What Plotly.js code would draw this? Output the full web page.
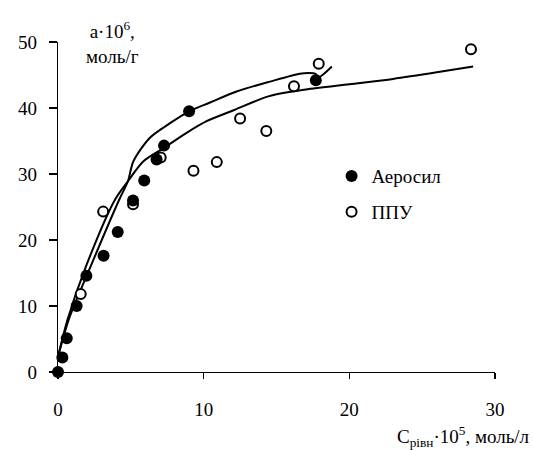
<!DOCTYPE html>
<html>
<head>
<meta charset="utf-8">
<script src="https://cdn.plot.ly/plotly-3.0.1.min.js"></script>
<style>html,body{margin:0;padding:0;background:#fff;}</style>
</head>
<body>
<div id="chart"></div>
<script>
// Measured points
const aeroX = [0, 0.3, 0.6, 1.28, 1.95, 3.13, 4.1, 5.15, 5.92, 6.77, 7.28, 9.0, 17.7];
const aeroY = [0, 2.2, 5.1, 10.0, 14.6, 17.6, 21.2, 26.0, 29.0, 32.2, 34.3, 39.5, 44.2];
const ppuX = [1.56, 3.1, 5.15, 7.05, 9.3, 10.9, 12.5, 14.3, 16.2, 17.9, 28.35];
const ppuY = [11.8, 24.3, 25.4, 32.5, 30.5, 31.8, 38.4, 36.5, 43.3, 46.7, 48.9];
// Fitted curves
const fitAeroX = [0, 0.73, 2.24, 4.2, 4.8, 5.17, 6.31, 7.69, 9.0, 10.4, 12.26, 14.55, 16.6, 17.3, 17.65, 17.9, 18.8];
const fitAeroY = [2.3, 7.9, 16.0, 26.1, 28.9, 31.9, 35.5, 37.7, 39.5, 40.8, 42.5, 44.0, 45.2, 45.3, 45.2, 44.7, 46.3];
const fitPpuX = [0, 0.65, 1.92, 3.91, 4.8, 5.85, 7.3, 8.8, 10.2, 12.1, 14.5, 17.0, 20, 23, 26, 28.5];
const fitPpuY = [2.3, 7.9, 16.0, 26.1, 28.9, 31.9, 34.0, 36.2, 38.0, 39.7, 41.8, 42.8, 43.6, 44.4, 45.4, 46.3];
const seriesNames = ['Аеросил', 'ППУ'];
const xTicks = [0, 10, 20, 30];
const yTicks = [0, 10, 20, 30, 40, 50];

const FONT = 'Liberation Serif';
const F = {family: FONT, size: 19, color: '#000'};

const traces = [
  {x: fitAeroX, y: fitAeroY, mode: 'lines', line: {color: '#000', width: 2, shape: 'spline', smoothing: 0.8}, showlegend: false, hoverinfo: 'skip', cliponaxis: false},
  {x: fitPpuX, y: fitPpuY, mode: 'lines', line: {color: '#000', width: 2, shape: 'spline', smoothing: 0.8}, showlegend: false, hoverinfo: 'skip', cliponaxis: false},
  {x: ppuX, y: ppuY, name: seriesNames[1], mode: 'markers', legendrank: 2, legendgroup: 'b',
   marker: {symbol: 'circle', size: 10, color: '#fff', line: {color: '#000', width: 2}}, cliponaxis: false},
  {x: aeroX, y: aeroY, name: seriesNames[0], mode: 'markers', legendrank: 1, legendgroup: 'a',
   marker: {symbol: 'circle', size: 12, color: '#000', line: {width: 0}}, cliponaxis: false}
];

const layout = {
  width: 534, height: 450,
  margin: {l: 58, r: 39, t: 42, b: 78},
  paper_bgcolor: '#fff', plot_bgcolor: '#fff',
  font: F,
  showlegend: true,
  legend: {x: 0.626, xanchor: 'left', y: 0.651, yanchor: 'top', bgcolor: 'rgba(0,0,0,0)',
           font: F, tracegroupgap: 8, itemwidth: 30},
  xaxis: {range: [0, 30], tickvals: xTicks, ticktext: xTicks.map(String), showgrid: false, zeroline: false,
          showline: true, linecolor: '#000', linewidth: 1.3, ticks: 'outside', ticklen: 6, tickwidth: 1.3, tickcolor: '#000',
          ticklabelstandoff: 14, tickfont: F},
  yaxis: {range: [0, 50], tickvals: yTicks, ticktext: yTicks.map(String), showgrid: false, zeroline: false,
          showline: true, linecolor: '#000', linewidth: 1.3, ticks: 'outside', ticklen: 8, tickwidth: 1.3, tickcolor: '#000',
          ticklabelstandoff: 8, tickfont: F},
  annotations: [
    {text: 'a·10<sup>6</sup>,<br>моль/г', xref: 'paper', yref: 'paper', x: 0.1236, y: 1.0, xanchor: 'center', yanchor: 'middle',
     showarrow: false, align: 'center', font: F},
    {text: 'C<sub>рівн</sub>·10<sup>5</sup>, моль/л', xref: 'paper', yref: 'paper', x: 1.0847, y: -0.195, xanchor: 'right', yanchor: 'middle',
     showarrow: false, font: F}
  ]
};

Plotly.newPlot('chart', traces, layout, {staticPlot: true}).then(function () {
  document.querySelectorAll('#chart text').forEach(function (t) {
    t.style.fontFamily = "'Liberation Serif', serif";
    t.setAttribute('font-family', 'Liberation Serif');
  });
});
</script>
</body>
</html>
